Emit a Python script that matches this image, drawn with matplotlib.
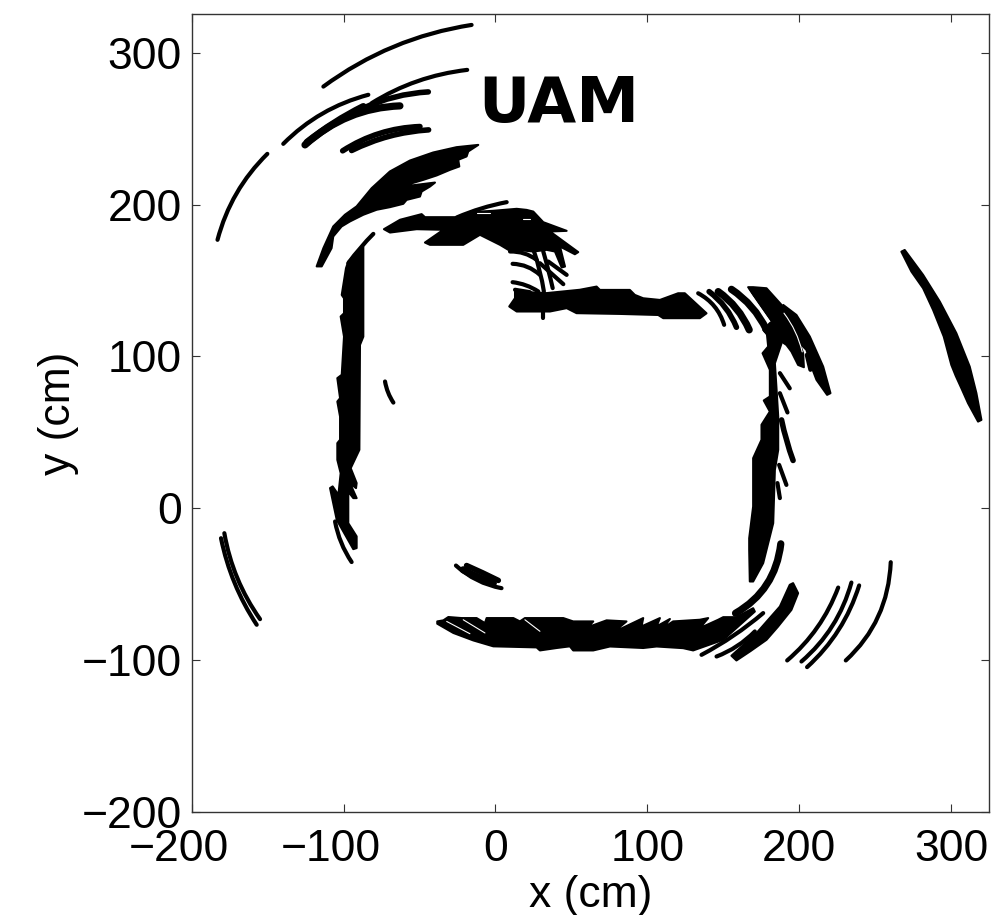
import numpy as np
import matplotlib
matplotlib.use('Agg')
import matplotlib.pyplot as plt
from matplotlib.path import Path
from matplotlib.patches import PathPatch, Polygon
from matplotlib.transforms import ScaledTranslation

plt.rcParams['font.family'] = ['Liberation Sans', 'DejaVu Sans']

# walls seen by many scans, outlines (cm)
upper_fan = [(-117.7, 159.3), (-113.3, 171.3), (-106.8, 185.6), (-99.1, 193.3), (-91.4, 198.8),
             (-81.5, 210.8), (-69.5, 221.8), (-56.3, 229), (-41, 234.3), (-25.6, 237.8), (-11.3, 239.3),
             (-17.9, 235), (-19, 231.7), (-24.5, 229.5), (-23.8, 225.1), (-29.9, 222.9), (-38.7, 219.2),
             (-47.5, 216.3), (-58.5, 213), (-64, 211.5), (-39.8, 214.5), (-43.1, 211.9), (-48.6, 208.6),
             (-49.7, 205.3), (-58.5, 203.1), (-60.7, 200.5), (-69.5, 198.3), (-78.2, 196.6), (-87, 193.3),
             (-95.8, 188.9), (-101.3, 185.6), (-106.8, 179), (-107.9, 171.3), (-114.4, 159.3)]
left_wall = [(-87, 172), (-87, 113), (-89.2, 107.6), (-89.6, 38.5), (-95.3, 26.4), (-91.4, 16.6),
             (-91.8, 13.3), (-95.8, 16.6), (-91.4, 6.7), (-93.6, 6.7), (-96.9, 11), (-96.9, -9.8),
             (-91.4, -18.5), (-91.4, -26.2), (-93.6, -26.9), (-104.5, -7.6), (-108.9, 13.3),
             (-107.2, 14.4), (-103.4, 8.9), (-101.9, 23.1), (-104.1, 31.9), (-104.1, 42.9),
             (-102.3, 45.1), (-102.3, 60.4), (-104.1, 70.3), (-102.3, 72.5), (-104.1, 85.7),
             (-101.2, 87.9), (-99.7, 113.1), (-101.9, 126.3), (-99.7, 128.4), (-99.7, 138.3),
             (-101.2, 140.5), (-98.4, 158.1), (-96.9, 162.5)]
top_wall = [(-73.4, 183.8), (-62.8, 190), (-48.6, 193.7), (-46.4, 191.7), (-25.5, 191.7),
            (-10.2, 195.4), (-1.4, 195.9), (14, 197.2), (20.5, 196.5), (24.9, 195.4), (31.5, 188.4),
            (46.9, 182.7), (35.9, 182.3), (54.5, 168.7), (52.3, 167.3), (42.5, 172.4), (45.8, 159.2),
            (43.6, 158.6), (39.2, 169.1), (33.7, 170.2), (24.9, 169.1), (14, 170.2), (8.5, 170.2),
            (3, 173.5), (-10.2, 180.1), (-21.2, 173.5), (-31, 173.5), (-43.1, 173.5), (-46.4, 175),
            (-34.3, 183.4), (-51.9, 183.8), (-69.4, 181.6)]
corridor_wall = [(9.1, 132.9), (12.9, 138.4), (12.9, 142.8), (33.7, 141.7), (55.6, 143.9), (66.6, 146),
                 (68.8, 143.8), (88.5, 143.8), (91.8, 140.5), (97.3, 138.3), (108.3, 137.2),
                 (120.3, 141.6), (124.7, 141.6), (139, 128.4), (134.6, 125.2), (110.5, 125.2),
                 (107.2, 127.3), (82, 128), (53.4, 128.5), (46.9, 131.8), (35.9, 129.6),
                 (20.5, 129.6), (14, 129.6), (10.7, 131.8)]
corner_band = [(166.4, 145.6), (169.7, 145.6), (178.5, 144.9), (188.4, 133.9), (196, 119.7), (202.6, 102.1),
               (203.1, 92.9), (199.3, 94.4), (194.9, 103.2), (191.6, 107.6), (188.4, 109.8), (181.8, 110.9),
               (176.3, 117.5), (181.8, 123), (169.7, 140.5)]
corner_outer_band = [(189.5, 133.9), (198.2, 127.3), (207, 113.1), (215.8, 93.3), (220.6, 75.8), (218.4, 74.7),
                     (211.4, 84.6), (208.1, 93.3), (204.8, 104.3), (201.5, 107.6), (194.9, 121.9), (190.6, 129.5)]
right_wall = [(178.5, 117.5), (188.4, 108.7), (184, 95.5), (185, 80), (186.2, 60.4), (186.2, 38.5),
              (184, 25.3), (182.9, -9.8), (176.3, -36.1), (169.7, -48.2), (167.5, -48.2),
              (167.1, -27.3), (167.1, -19.7), (169.7, 1.2), (169.7, 33), (175.2, 45.1), (175.2, 55),
              (180.7, 63.7), (176.7, 71), (180.7, 73.6), (180.7, 91.2), (175.9, 102.1), (179.6, 106.5)]
bottom_wall = [(-38.3, -74.5), (-34.3, -73.8), (-31, -71.6), (-22.3, -72.3), (-12.4, -72.3), (-6.9, -75.6),
               (-5.8, -72.3), (11.8, -72.3), (16.1, -74.5), (19.4, -72.3), (44.7, -72.3), (51.2, -74.5),
               (64.4, -74.5), (61.1, -78.2), (73.2, -73.8), (86.3, -74.5), (77.6, -81.7), (97.3, -72.3),
               (96.2, -77.8), (108.3, -72.3), (106.1, -77.8), (114.9, -72.9), (110.5, -78.8), (117, -74.5),
               (134.6, -73.4), (140.1, -72.3), (134.6, -78.9), (146.7, -73.4), (150, -71.7), (158.7, -71.7),
               (169.7, -65.8), (170.8, -68), (150, -86.6), (130.2, -93.6), (123.6, -92.1), (106.1, -91),
               (97.3, -92), (75.4, -91), (64.4, -93.6), (51.2, -93.6), (49, -90.9), (40.3, -92),
               (29.3, -93.6), (27.1, -91.6), (-1.4, -90.9), (-14.6, -87), (-27.7, -82.1), (-38.3, -76)]
lower_right_band = [(196, -49.3), (199.3, -55.9), (194.9, -66.9), (186, -78), (178.5, -86.6), (168, -94),
                    (158.7, -100.2), (155.4, -97.1), (171.9, -82.2), (187.3, -64.7), (193.8, -50.4)]
far_right_band = [(267.3, 169), (269.5, 170.1), (281.6, 153.7), (292.6, 136.1), (303.5, 115.3), (312.3, 93.3),
                  (316.7, 75.8), (320, 58.2), (317.8, 57.1), (311.2, 69.2), (306.8, 79.1), (303.1, 87.2),
                  (300.2, 94.4), (295.2, 113.1), (288.2, 130.6), (281.6, 144.9), (273.9, 155.9)]
wall_outlines = [upper_fan, left_wall, top_wall, corridor_wall, corner_band, corner_outer_band, right_wall,
                 bottom_wall, lower_right_band, far_right_band]

# single tracks, grouped by how thick they look
thin_tracks = [
    [(-113.3, 277.7), (-91.4, 292), (-69.5, 303), (-47.5, 311), (-15.7, 318.3)],
    [(-81.5, 266.8), (-65, 276.6), (-43, 283.2), (-18.6, 288.7)],
    [(-139.7, 240), (-126.5, 251.4), (-109, 262.8), (-83.7, 272.3)],
    [(-183, 176.8), (-175.9, 196.6), (-164.9, 216.3), (-150.2, 233.4)],
    [(-105.6, -8.7), (-102.3, -20.7), (-94.7, -35.4)],
    [(-72.7, 83.5), (-70.5, 75.8), (-67.2, 69.6)],
    [(-96.9, 161.4), (-89.2, 171.2), (-80.4, 180.7)],
    [(-25.5, 191.5), (-10.2, 197.2), (7.4, 201.6)],
    [(9.6, 169.1), (20.5, 167.3), (27.1, 163.6)],
    [(11.3, 161), (20.5, 159.2), (29.3, 153.7)],
    [(11.3, 148.9), (20.5, 146.7), (28.2, 142.8)],
    [(12.9, 143.9), (22.7, 142.3)],
    [(25.4, 169.1), (29.3, 155.9), (31.9, 142.8)],
    [(31.5, 169.1), (34.8, 157), (37.7, 145)],
    [(34.8, 162.5), (46.9, 153.7)],
    [(29.3, 161.4), (44.7, 147.6)],
    [(31, 131.8), (31, 125.2)],
    [(133.5, 141.6), (143.4, 133.9), (150.6, 120.8)],
    [(205, 101), (207.4, 91.2)],
    [(187.3, 89), (193.8, 79)],
    [(187.3, 75.8), (192.3, 63.1)],
    [(186.8, 28.6), (191.6, 15.4)],
    [(185.7, 16.6), (187.3, 6.7)],
    [(176.3, -69), (165.3, -77.8), (135.7, -96.5)],
    [(145.6, -97.6), (158.7, -91), (170.8, -81.1)],
    [(192.1, -100.2), (209.2, -82.2), (225.7, -52.2)],
    [(201.5, -100.9), (220.2, -80), (234.4, -48.9)],
    [(205.2, -104.6), (224.6, -82.2), (239.5, -50.8)],
    [(230.7, -100.2), (248.7, -77.8), (260.3, -35.5)],
    [(-26, -37.7), (-12.4, -47.1), (4, -52.6)],
    [(-180.7, -19.7), (-172.6, -47.1), (-157.2, -76.7)],
    [(-178.5, -16.4), (-170.4, -44.9), (-155, -73)],
]
medium_tracks = [
    [(-87, 263.5), (-69.5, 270), (-44.2, 274.2)],
    [(-100.6, 235.4), (-84.8, 243.7), (-69.5, 248.8), (-49.7, 251.4)],
    [(-94.7, 235.6), (-78.2, 242.6), (-60.7, 247), (-44, 249.2)],
    [(140.7, 142.7), (150, 133.9), (158.7, 119.2)],
    [(188.4, 58.2), (191.6, 45), (196, 31.5)],
    [(-19, -37.7), (-8, -42.7), (1.9, -47.5)],
]
wide_tracks = [
    [(-125.4, 239.3), (-106.8, 251.4), (-87, 262.4), (-62.9, 265)],
    [(-124, 241), (-108, 252.5), (-87, 264.5)],
    [(146.7, 142.7), (157.6, 132.8), (167.1, 117.5)],
    [(155.4, 144.2), (167.5, 133.9), (178.5, 117.5)],
    [(187.9, -23.4), (184.4, -39.4), (176.3, -52.6), (167.5, -63.6), (158.1, -69.1)],
    [(-21.2, -40.5), (-10.2, -46), (-1.4, -49.3)],
]
# small gaps left between tracks
gap_tracks = [
    [(-32.1, -74.5), (-16.8, -82.6)],
    [(-21.2, -73.4), (-6.9, -82.1)],
    [(19.4, -73.4), (29.3, -81)],
    [(165.3, 144.9), (180.7, 123)],
    [(190, 128.5), (198, 115), (202, 103)],
    [(-12.4, 194.3), (-3.6, 194.3)],
    [(18.3, 190.6), (22.7, 190.6)],
]

x_ticks = [-200, -100, 0, 100, 200, 300]
y_ticks = [-200, -100, 0, 100, 200, 300]
x_limits = (-200, 325)
y_limits = (-200, 325.5)
label_text = 'UAM'


def arc_path(track):
    # one quadratic bezier fitted to the read points, the arcs are smooth
    pts = np.array(track, dtype=float)
    if len(pts) == 2:
        return Path(pts)
    d = np.r_[0, np.cumsum(np.hypot(*np.diff(pts, axis=0).T))]
    t = d[1:-1] / d[-1]
    w = 2 * t * (1 - t)
    rest = pts[1:-1] - np.outer((1 - t) ** 2, pts[0]) - np.outer(t ** 2, pts[-1])
    ctrl = (w[:, None] * rest).sum(axis=0) / (w ** 2).sum()
    return Path([pts[0], ctrl, pts[-1]], [Path.MOVETO, Path.CURVE3, Path.CURVE3])


def draw_tracks(ax, tracks, width, color='k', zorder=3):
    for track in tracks:
        ax.add_patch(PathPatch(arc_path(track), fill=False, edgecolor=color, linewidth=width,
                               capstyle='round', joinstyle='round', zorder=zorder))


fig = plt.figure(figsize=(9.91, 9.15), dpi=100)
ax = fig.add_axes([191.7 / 991, 1 - 812 / 915, (989 - 191.7) / 991, (812 - 14) / 915])

for outline in wall_outlines:
    ax.add_patch(Polygon(outline, closed=True, facecolor='k', edgecolor='k', linewidth=1.5,
                         joinstyle='round', zorder=2))

draw_tracks(ax, thin_tracks, 3.0)
draw_tracks(ax, medium_tracks, 4.0)
draw_tracks(ax, wide_tracks, 5.2)
draw_tracks(ax, gap_tracks, 0.8, color='w', zorder=4)

ax.text(-11, 254.5, label_text, family='DejaVu Sans', fontweight='bold', fontsize=45.5,
        ha='left', va='baseline', zorder=5)

ax.set_xlim(x_limits)
ax.set_ylim(y_limits)
ax.set_xticks(x_ticks)
ax.set_yticks(y_ticks)
ax.tick_params(direction='in', top=True, right=True, length=6, width=0.8, color='#333333',
               labelsize=32, pad=7)
ax.tick_params(axis='x', pad=12)
for spine in ax.spines.values():
    spine.set_linewidth(1.0)
    spine.set_color('#333333')

# digits sit on the tick, the minus hangs out to the left
for value, label in zip(x_ticks, ax.get_xticklabels()):
    if value < 0:
        label.set_transform(label.get_transform() + ScaledTranslation(-0.13, 0, fig.dpi_scale_trans))

ax.set_xlabel('x (cm)', fontsize=32, labelpad=4)
ax.set_ylabel('y (cm)', fontsize=32, labelpad=2)

fig.savefig('out.png', dpi=100)
